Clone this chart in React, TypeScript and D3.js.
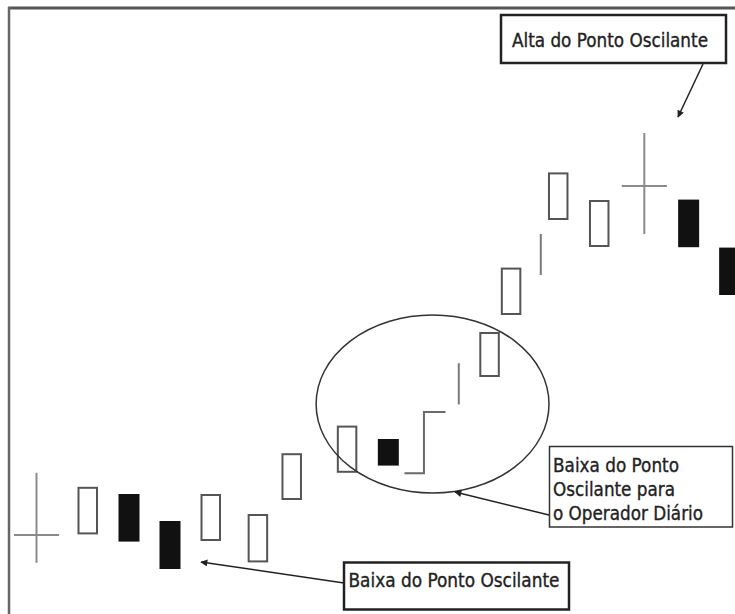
import React from "react";
import * as d3 from "d3";

// Candle data (schematic price units)
const times = [1.0, 3.5, 5.5, 7.5, 9.5, 11.8, 13.45, 16.15, 18.15, 19.9, 21.6, 23.1, 24.15, 25.6, 26.45, 28.45, 30.65, 32.8, 34.8];
const opens = [19.75, 19.9, 30.0, 23.25, 18.25, 12.9, 28.5, 35.3, 43.75, 35.2, 52.4, 59.25, 74.75, 84.75, 98.5, 91.75, 107, 103.6, 91.6];
const closes = [19.75, 31.8, 18.1, 11.25, 30.0, 25.0, 40.2, 47.1, 37.1, 50.5, 62.7, 70.5, 86.6, 95.0, 110.4, 103.5, 107, 91.7, 79.75];
const highs = [35.3, 31.8, 30.0, 23.25, 30.0, 25.0, 40.2, 47.1, 43.75, 50.5, 62.7, 70.5, 86.6, 95.0, 110.4, 103.5, 120.25, 103.6, 91.6];
const lows = [12.8, 19.9, 18.1, 11.25, 18.25, 12.9, 28.5, 35.3, 37.1, 35.2, 52.4, 59.25, 74.75, 84.75, 98.5, 91.75, 95, 91.7, 79.75];
const kinds = ["doji", "body", "body", "body", "body", "body", "body", "body", "body", "bar", "line", "body", "body", "line", "body", "body", "doji", "body", "body"];

// Ellipse highlighting the intraday swing low (center time, center price, radii)
const ellipseCenter = [20.32, 52.5];
const ellipseRadii = [5.68, 22.25];

const labelAlta = "Alta do Ponto Oscilante";
const labelBaixaDiario = ["Baixa do Ponto", "Oscilante para", "o Operador Diário"];
const labelBaixa = "Baixa do Ponto Oscilante";

const W = 735;
const H = 614;

export default function App() {
  const x = d3.scaleLinear().domain([0, 35]).range([16, 16 + 35 * 20.5]);
  const y = d3.scaleLinear().domain([0, 150]).range([614, 14]);
  const bw = x(1) - x(0);
  const font = "'Liberation Sans Narrow', 'DejaVu Sans Condensed', 'Liberation Sans', Arial, sans-serif";
  const textStyle = { fill: "#222", stroke: "#222", strokeWidth: 0.35 };

  const candles = times.map((t, i) => {
    const cx = x(t);
    const k = kinds[i];
    const o = opens[i], c = closes[i], h = highs[i], l = lows[i];
    if (k === "doji") {
      const half = x(1.1) - x(0);
      return (
        <g key={i} stroke="#8a8a8a" strokeWidth={2}>
          <line x1={cx} x2={cx} y1={y(h)} y2={y(l)} />
          <line x1={cx - half} x2={cx + half} y1={y(o)} y2={y(o)} />
        </g>
      );
    }
    if (k === "line") {
      return <line key={i} x1={cx} x2={cx} y1={y(h)} y2={y(l)} stroke="#7a7a7a" strokeWidth={2} />;
    }
    if (k === "bar") {
      const tl = x(0.95) - x(0);
      const tr = x(1.05) - x(0);
      const p = d3.path();
      p.moveTo(cx - tl, y(o));
      p.lineTo(cx, y(o));
      p.lineTo(cx, y(c));
      p.lineTo(cx + tr, y(c));
      return <path key={i} d={p.toString()} fill="none" stroke="#6a6a6a" strokeWidth={2} />;
    }
    const top = y(Math.max(o, c));
    const bot = y(Math.min(o, c));
    if (c >= o) {
      return (
        <rect key={i} x={cx - bw / 2 + 1} y={top + 1} width={bw - 2} height={bot - top - 2}
          fill="#fff" stroke="#555" strokeWidth={2} />
      );
    }
    return <rect key={i} x={cx - bw / 2} y={top} width={bw + 0.5} height={bot - top} fill="#111" />;
  });

  const arrows = [
    { x1: 703, y1: 64, x2: 678, y2: 117 },
    { x1: 549, y1: 515, x2: 455, y2: 492 },
    { x1: 344, y1: 583, x2: 201, y2: 562 },
  ];

  return (
    <svg width={W} height={H} style={{ position: "absolute", left: 0, top: 0, display: "block", background: "#fff" }}>
      <defs>
        <marker id="ah" viewBox="0 0 10 10" refX={9} refY={5} markerWidth={9} markerHeight={7}
          markerUnits="userSpaceOnUse" orient="auto">
          <path d="M0,0 L10,5 L0,10 z" fill="#222" />
        </marker>
      </defs>
      {/* frame */}
      <line x1={8} x2={W} y1={8} y2={8} stroke="#555" strokeWidth={3} />
      <line x1={9} x2={9} y1={7} y2={H} stroke="#666" strokeWidth={2.5} />

      {candles}

      <ellipse cx={x(ellipseCenter[0])} cy={y(ellipseCenter[1])}
        rx={x(ellipseRadii[0]) - x(0)} ry={y(0) - y(ellipseRadii[1])}
        fill="none" stroke="#333" strokeWidth={1.5} />

      {arrows.map((a, i) => (
        <line key={i} x1={a.x1} y1={a.y1} x2={a.x2} y2={a.y2} stroke="#222" strokeWidth={1.5} markerEnd="url(#ah)" />
      ))}

      {/* Box: Alta */}
      <rect x={501} y={15} width={225} height={48} fill="#fff" stroke="#222" strokeWidth={2.5} />
      <text x={512} y={46.5} fontFamily={font} fontSize={20} style={textStyle}
        textLength={196} lengthAdjust="spacingAndGlyphs">{labelAlta}</text>

      {/* Box: Baixa diário */}
      <rect x={549.5} y={446.5} width={183} height={80.5} fill="#fff" stroke="#333" strokeWidth={1.5} />
      {labelBaixaDiario.map((s, i) => (
        <text key={i} x={553} y={471.5 + i * 24.2} fontFamily={font} fontSize={20} style={textStyle}
          textLength={[126, 122, 150][i]} lengthAdjust="spacingAndGlyphs">{s}</text>
      ))}

      {/* Box: Baixa */}
      <rect x={344} y={562.5} width={225} height={47} fill="#fff" stroke="#222" strokeWidth={2.5} />
      <text x={348.5} y={586.5} fontFamily={font} fontSize={20} style={textStyle}
        textLength={211} lengthAdjust="spacingAndGlyphs">{labelBaixa}</text>
    </svg>
  );
}
